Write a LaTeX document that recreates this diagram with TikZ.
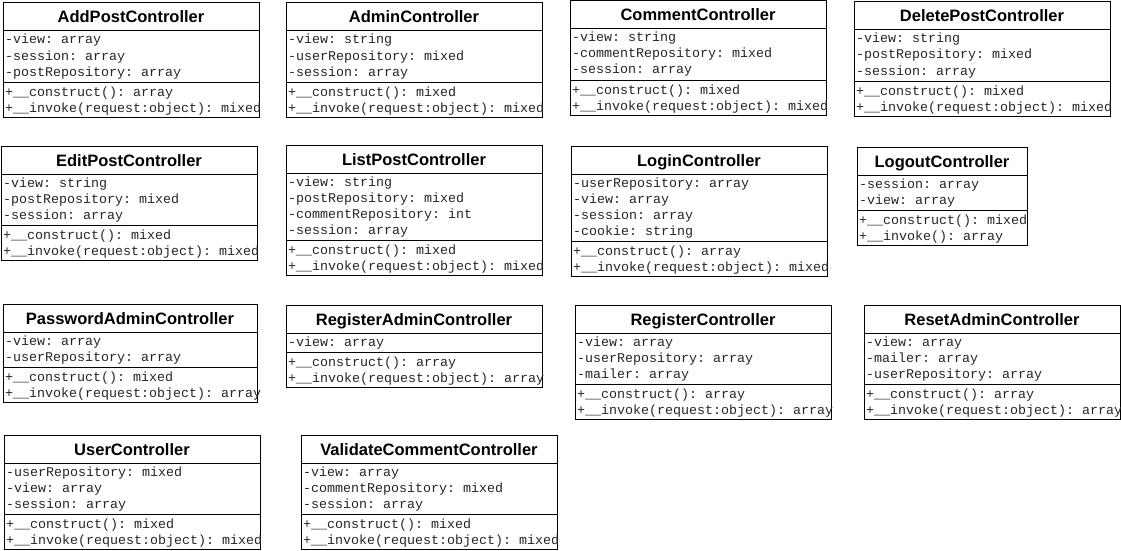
\documentclass[tikz,border=0pt]{standalone}
\usepackage{fontspec}
\setmainfont{Liberation Sans}
\setmonofont{Liberation Mono}
\tikzset{
  classframe/.style={draw=black, line width=1pt, inner sep=0pt, outer sep=0pt, anchor=north west},
  sepline/.style={draw=black, line width=1pt},
  titletext/.style={font=\fontsize{16.5}{18}\selectfont\bfseries, anchor=base, inner sep=0pt},
  membertext/.style={font=\ttfamily\fontsize{13.33}{16}\selectfont, text=black!85, anchor=base west, inner sep=0pt},
}
% #1 id, #2 left, #3 top, #4 width, #5 title, #6 number of attributes, #7 attributes, #8 methods
\newcommand{\classbox}[8]{%
  \pgfmathsetmacro\cbh{66+16*#6}%
  \pgfmathsetmacro\cbs{#3+28}%
  \pgfmathsetmacro\cbt{#3+28+16*#6+3}%
  \node[classframe, minimum width=#4pt, minimum height=\cbh pt] (#1) at (#2,#3) {};
  \draw[sepline] (#2,\cbs) -- (#2+#4,\cbs);
  \draw[sepline] (#2,\cbt) -- (#2+#4,\cbt);
  \node[titletext] (#1-title) at (#2+#4/2,#3+20) {#5};
  \foreach \m [count=\i from 0] in {#7} {\node[membertext] (#1-a\i) at (#2+2,\cbs+13+16*\i) {\m};}
  \foreach \m [count=\i from 0] in {#8} {\node[membertext] (#1-m\i) at (#2+2,\cbt+14+16*\i) {\m};}
}
\begin{document}
\begin{tikzpicture}[x=1pt,y=-1pt]
\useasboundingbox[fill=white] (0,0) rectangle (1121,551);

\classbox{addpost}{3}{3}{256}{AddPostController}{3}{-view: array,-session: array,-postRepository: array}{+\_\_construct(): array,+\_\_invoke(request:object): mixed}
\classbox{admin}{286}{3}{256}{AdminController}{3}{-view: string,-userRepository: mixed,-session: array}{+\_\_construct(): mixed,+\_\_invoke(request:object): mixed}
\classbox{comment}{570}{1}{256}{CommentController}{3}{-view: string,-commentRepository: mixed,-session: array}{+\_\_construct(): mixed,+\_\_invoke(request:object): mixed}
\classbox{deletepost}{854}{2}{256}{DeletePostController}{3}{-view: string,-postRepository: mixed,-session: array}{+\_\_construct(): mixed,+\_\_invoke(request:object): mixed}

\classbox{editpost}{1}{146}{256}{EditPostController}{3}{-view: string,-postRepository: mixed,-session: array}{+\_\_construct(): mixed,+\_\_invoke(request:object): mixed}
\classbox{listpost}{286}{145}{256}{ListPostController}{4}{-view: string,-postRepository: mixed,-commentRepository: int,-session: array}{+\_\_construct(): mixed,+\_\_invoke(request:object): mixed}
\classbox{login}{571}{146}{256}{LoginController}{4}{-userRepository: array,-view: array,-session: array,-cookie: string}{+\_\_construct(): array,+\_\_invoke(request:object): mixed}
\classbox{logout}{857}{147}{170}{LogoutController}{2}{-session: array,-view: array}{+\_\_construct(): mixed,+\_\_invoke(): array}

\classbox{passwordadmin}{3}{304}{254}{PasswordAdminController}{2}{-view: array,-userRepository: array}{+\_\_construct(): mixed,+\_\_invoke(request:object): array}
\classbox{registeradmin}{286}{305}{256}{RegisterAdminController}{1}{-view: array}{+\_\_construct(): array,+\_\_invoke(request:object): array}
\classbox{register}{575}{305}{256}{RegisterController}{3}{-view: array,-userRepository: array,-mailer: array}{+\_\_construct(): array,+\_\_invoke(request:object): array}
\classbox{resetadmin}{864}{305}{256}{ResetAdminController}{3}{-view: array,-mailer: array,-userRepository: array}{+\_\_construct(): array,+\_\_invoke(request:object): array}

\classbox{user}{4}{435}{256}{UserController}{3}{-userRepository: mixed,-view: array,-session: array}{+\_\_construct(): mixed,+\_\_invoke(request:object): mixed}
\classbox{validatecomment}{301}{435}{256}{ValidateCommentController}{3}{-view: array,-commentRepository: mixed,-session: array}{+\_\_construct(): mixed,+\_\_invoke(request:object): mixed}
\end{tikzpicture}
\end{document}
